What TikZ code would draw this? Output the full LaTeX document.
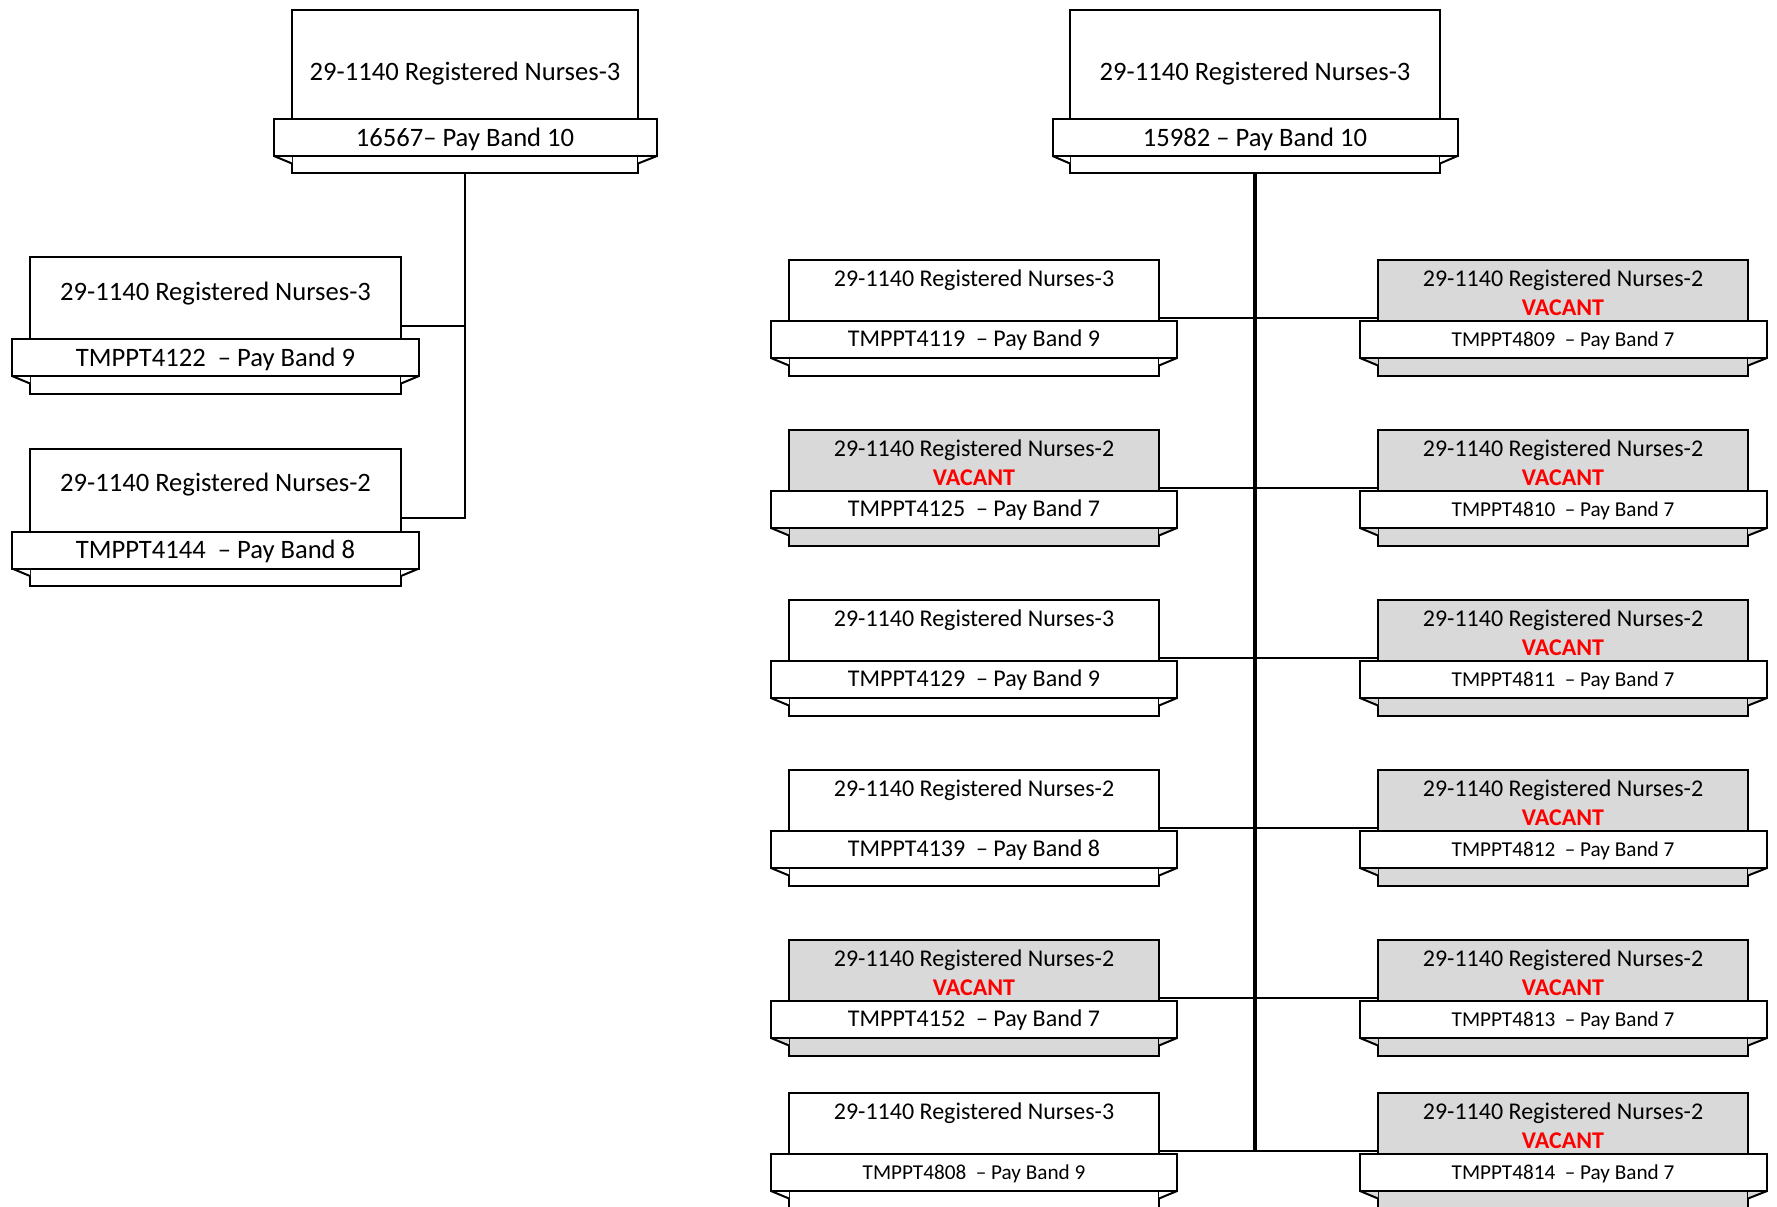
\documentclass[tikz,border=0pt]{standalone}
\usepackage{fontspec}
\setmainfont{Carlito}
\definecolor{vacgray}{RGB}{217,217,217}
\definecolor{vacred}{RGB}{255,0,0}
\newcommand{\fbig}{\fontsize{13.3pt}{16pt}\selectfont}
\newcommand{\fmid}{\fontsize{12pt}{14pt}\selectfont}
\newcommand{\fsml}{\fontsize{10.6pt}{13pt}\selectfont}
\tikzset{
  edge/.style={line width=1pt, draw=black},
  unitbox/.style={rectangle, draw=black, line width=1pt, inner sep=0pt, outer sep=0pt},
  ribbon/.style={rectangle, draw=black, fill=white, line width=1pt, inner sep=0pt, outer sep=0pt, minimum height=18.5pt},
  conn/.style={line width=1pt, draw=black},
  trunk/.style={line width=1.6pt, draw=black},
  lbl/.style={inner sep=0pt, outer sep=0pt, anchor=base, text=black},
  vac/.style={inner sep=0pt, outer sep=0pt, anchor=base, text=vacred, font=\fmid\bfseries},
}
% #1 name, #2 fill, #3 L, #4 R, #5 T, #6 B, #7 ribbon L, #8 ribbon R, #9 ribbon top
\newcommand{\orgunit}[9]{%
  \pgfmathsetmacro{\bbot}{#9+37}%
  \pgfmathsetmacro{\bfold}{#9+44.5}%
  \node[unitbox, fill=#2, minimum width={(#4-#3)*0.5pt}, minimum height={(#6-#5)*0.5pt}, anchor=north west] (#1) at (#3,#5) {};
  \fill[#2] (#7,\bbot) -- (#3,\bfold) -- (#3,\bbot) -- cycle;
  \fill[#2] (#8,\bbot) -- (#4,\bfold) -- (#4,\bbot) -- cycle;
  \draw[edge] (#7,\bbot) -- (#3,\bfold);
  \draw[edge] (#8,\bbot) -- (#4,\bfold);
  \node[ribbon, minimum width={(#8-#7)*0.5pt}, anchor=north west] (#1-b) at (#7,#9) {};
}
\begin{document}
\begin{tikzpicture}[x=0.5pt, y=-0.5pt]
\useasboundingbox (0,0) rectangle (1777,1206);
\clip (0,0) rectangle (1777,1206);
\fill[white] (0,0) rectangle (1777,1206);

% ---- left tree ----
\orgunit{A}{white}{292}{638}{10}{173}{274}{657}{119}
\node[lbl, font=\fbig] (A-t) at (465,80) {29-1140 Registered Nurses-3};
\node[lbl, font=\fbig] (A-n) at (465,146) {16567– Pay Band 10};

\orgunit{C1}{white}{30}{401}{257}{394}{12}{419}{339}
\node[lbl, font=\fbig] (C1-t) at (215.5,300) {29-1140 Registered Nurses-3};
\node[lbl, font=\fbig] (C1-n) at (215.5,366) {TMPPT4122\ \ – Pay Band 9};

\orgunit{C2}{white}{30}{401}{449}{586}{12}{419}{531.5}
\node[lbl, font=\fbig] (C2-t) at (215.5,491.7) {29-1140 Registered Nurses-2};
\node[lbl, font=\fbig] (C2-n) at (215.5,558.3) {TMPPT4144\ \ – Pay Band 8};

% ---- right tree ----
\orgunit{B}{white}{1070}{1440}{10}{173}{1052.5}{1457.5}{119}
\node[lbl, font=\fbig] (B-t) at (1255,80) {29-1140 Registered Nurses-3};
\node[lbl, font=\fbig] (B-n) at (1255,146) {15982 – Pay Band 10};

% rows: left column
\orgunit{L1}{white}{789}{1159}{260}{376}{771}{1177}{321}
\node[lbl, font=\fmid] (L1-t) at (974,286.7) {29-1140 Registered Nurses-3};
\node[lbl, font=\fmid] (L1-n) at (974,346.7) {TMPPT4119\ \ – Pay Band 9};

\orgunit{L2}{vacgray}{789}{1159}{430}{546}{771}{1177}{491}
\node[lbl, font=\fmid] (L2-t) at (974,456.7) {29-1140 Registered Nurses-2};
\node[vac] (L2-v) at (974,485) {VACANT};
\node[lbl, font=\fmid] (L2-n) at (974,516.7) {TMPPT4125\ \ – Pay Band 7};

\orgunit{L3}{white}{789}{1159}{600}{716}{771}{1177}{661}
\node[lbl, font=\fmid] (L3-t) at (974,626.7) {29-1140 Registered Nurses-3};
\node[lbl, font=\fmid] (L3-n) at (974,686.7) {TMPPT4129\ \ – Pay Band 9};

\orgunit{L4}{white}{789}{1159}{770}{886}{771}{1177}{831}
\node[lbl, font=\fmid] (L4-t) at (974,796.7) {29-1140 Registered Nurses-2};
\node[lbl, font=\fmid] (L4-n) at (974,856.7) {TMPPT4139\ \ – Pay Band 8};

\orgunit{L5}{vacgray}{789}{1159}{940}{1056}{771}{1177}{1001}
\node[lbl, font=\fmid] (L5-t) at (974,966.7) {29-1140 Registered Nurses-2};
\node[vac] (L5-v) at (974,995) {VACANT};
\node[lbl, font=\fmid] (L5-n) at (974,1026.7) {TMPPT4152\ \ – Pay Band 7};

\orgunit{L6}{white}{789}{1159}{1093}{1209}{771}{1177}{1154}
\node[lbl, font=\fmid] (L6-t) at (974,1119.7) {29-1140 Registered Nurses-3};
\node[lbl, font=\fsml] (L6-n) at (974,1179.7) {TMPPT4808\ \ – Pay Band 9};

% rows: right column
\orgunit{R1}{vacgray}{1378}{1748}{260}{376}{1360}{1767}{321}
\node[lbl, font=\fmid] (R1-t) at (1563,286.7) {29-1140 Registered Nurses-2};
\node[vac] (R1-v) at (1563,315) {VACANT};
\node[lbl, font=\fsml] (R1-n) at (1563,346.7) {TMPPT4809\ \ – Pay Band 7};

\orgunit{R2}{vacgray}{1378}{1748}{430}{546}{1360}{1767}{491}
\node[lbl, font=\fmid] (R2-t) at (1563,456.7) {29-1140 Registered Nurses-2};
\node[vac] (R2-v) at (1563,485) {VACANT};
\node[lbl, font=\fsml] (R2-n) at (1563,516.7) {TMPPT4810\ \ – Pay Band 7};

\orgunit{R3}{vacgray}{1378}{1748}{600}{716}{1360}{1767}{661}
\node[lbl, font=\fmid] (R3-t) at (1563,626.7) {29-1140 Registered Nurses-2};
\node[vac] (R3-v) at (1563,655) {VACANT};
\node[lbl, font=\fsml] (R3-n) at (1563,686.7) {TMPPT4811\ \ – Pay Band 7};

\orgunit{R4}{vacgray}{1378}{1748}{770}{886}{1360}{1767}{831}
\node[lbl, font=\fmid] (R4-t) at (1563,796.7) {29-1140 Registered Nurses-2};
\node[vac] (R4-v) at (1563,825) {VACANT};
\node[lbl, font=\fsml] (R4-n) at (1563,856.7) {TMPPT4812\ \ – Pay Band 7};

\orgunit{R5}{vacgray}{1378}{1748}{940}{1056}{1360}{1767}{1001}
\node[lbl, font=\fmid] (R5-t) at (1563,966.7) {29-1140 Registered Nurses-2};
\node[vac] (R5-v) at (1563,995) {VACANT};
\node[lbl, font=\fsml] (R5-n) at (1563,1026.7) {TMPPT4813\ \ – Pay Band 7};

\orgunit{R6}{vacgray}{1378}{1748}{1093}{1209}{1360}{1767}{1154}
\node[lbl, font=\fmid] (R6-t) at (1563,1119.7) {29-1140 Registered Nurses-2};
\node[vac] (R6-v) at (1563,1148) {VACANT};
\node[lbl, font=\fsml] (R6-n) at (1563,1179.7) {TMPPT4814\ \ – Pay Band 7};

% ---- connectors ----
\draw[conn] (A.south) |- (C1.east);
\draw[conn] (A.south) |- (C2.east);

\draw[trunk] (B.south) -- (B.south |- L6.east);
\foreach \k in {1,...,6}{
  \draw[conn] (L\k.east) -- (R\k.west);
}
\end{tikzpicture}
\end{document}
